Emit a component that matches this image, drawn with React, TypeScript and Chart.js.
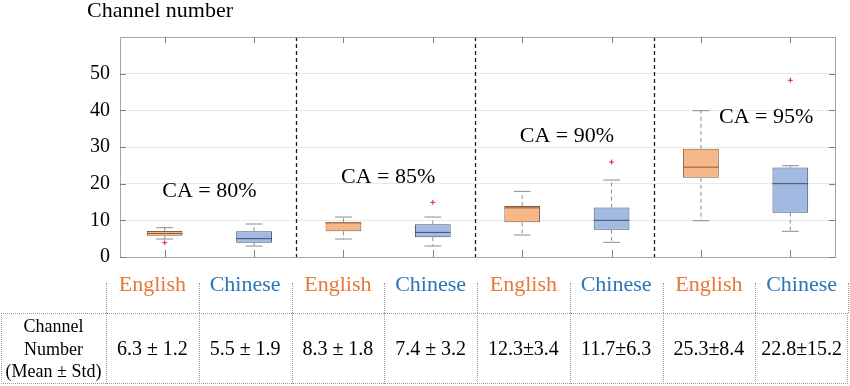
import React, { useEffect, useRef } from "react";
import { Chart, registerables } from "chart.js";

Chart.register(...registerables);

const categories = ["English", "Chinese", "English", "Chinese", "English", "Chinese", "English", "Chinese"];
const whiskerLow = [4.9, 3.0, 4.9, 3.0, 6.0, 4.0, 9.9, 7.0];
const q1 = [5.8, 3.9, 7.0, 5.4, 9.45, 7.45, 21.6, 12.1];
const median = [6.4, 5.0, 9.3, 6.7, 13.4, 10.0, 24.5, 20.0];
const q3 = [7.1, 7.0, 9.45, 8.9, 13.9, 13.5, 29.5, 24.4];
const whiskerHigh = [8.0, 9.0, 10.9, 10.9, 17.9, 21.0, 39.9, 24.9];
const outlierX = [0, 3, 5, 7];
const outlierY = [3.9, 14.9, 25.9, 48.2];
const caLabels = ["CA = 80%", "CA = 85%", "CA = 90%", "CA = 95%"];
const caX = [0.5, 2.5, 4.5, 6.73];
const caY = [17.9, 21.8, 33, 38.2];
const separatorX = [1.47, 3.47, 5.48];
const yTicks = [0, 10, 20, 30, 40, 50];
const tableValues = ["6.3 ± 1.2", "5.5 ± 1.9", "8.3 ± 1.8", "7.4 ± 3.2", "12.3±3.4", "11.7±6.3", "25.3±8.4", "22.8±15.2"];
const rowHeader = ["Channel", "Number", "(Mean ± Std)"];

const SERIF = "'Liberation Serif', 'Times New Roman', serif";
const ORANGE_FILL = "#F6B889";
const ORANGE_EDGE = "#8A5A3A";
const BLUE_FILL = "#A2B9E2";
const BLUE_EDGE = "#44506E";
const ORANGE_TEXT = "#E5793A";
const BLUE_TEXT = "#2B74BA";

const isEnglish = (c: string) => c === "English";

const boxPlugin = {
  id: "boxExtras",
  afterDatasetsDraw(chart: any) {
    const { ctx, chartArea: a, scales } = chart;
    const xs = scales.x;
    const ys = scales.y;
    const meta = chart.getDatasetMeta(0);
    ctx.save();
    categories.forEach((c, i) => {
      const x = xs.getPixelForValue(i);
      const bw = meta.data[i] ? meta.data[i].width : 36;
      const capW = bw * 0.47;
      ctx.strokeStyle = "#8c8c8c";
      ctx.lineWidth = 1;
      ctx.setLineDash([4, 3]);
      ctx.beginPath();
      ctx.moveTo(x, ys.getPixelForValue(q3[i]));
      ctx.lineTo(x, ys.getPixelForValue(whiskerHigh[i]));
      ctx.moveTo(x, ys.getPixelForValue(q1[i]));
      ctx.lineTo(x, ys.getPixelForValue(whiskerLow[i]));
      ctx.stroke();
      ctx.setLineDash([]);
      ctx.beginPath();
      ctx.moveTo(x - capW / 2, ys.getPixelForValue(whiskerHigh[i]));
      ctx.lineTo(x + capW / 2, ys.getPixelForValue(whiskerHigh[i]));
      ctx.moveTo(x - capW / 2, ys.getPixelForValue(whiskerLow[i]));
      ctx.lineTo(x + capW / 2, ys.getPixelForValue(whiskerLow[i]));
      ctx.stroke();
      ctx.strokeStyle = isEnglish(c) ? ORANGE_EDGE : BLUE_EDGE;
      ctx.beginPath();
      const my = ys.getPixelForValue(median[i]);
      ctx.moveTo(x - bw / 2, my);
      ctx.lineTo(x + bw / 2, my);
      ctx.stroke();
    });
    ctx.strokeStyle = "#1a1a1a";
    ctx.lineWidth = 1.3;
    ctx.setLineDash([4, 3]);
    separatorX.forEach((v) => {
      const x = Math.round(xs.getPixelForValue(v)) + 0.5;
      ctx.beginPath();
      ctx.moveTo(x, a.top);
      ctx.lineTo(x, a.bottom);
      ctx.stroke();
    });
    ctx.setLineDash([]);
    ctx.strokeStyle = "#a6a6a6";
    ctx.lineWidth = 1;
    ctx.strokeRect(Math.round(a.left) + 0.5, Math.round(a.top) + 0.5, Math.round(a.right - a.left), Math.round(a.bottom - a.top));
    ctx.strokeStyle = "#7f7f7f";
    ctx.beginPath();
    yTicks.forEach((t) => {
      const y = Math.round(ys.getPixelForValue(t)) + 0.5;
      ctx.moveTo(a.left, y);
      ctx.lineTo(a.left + 6, y);
      ctx.moveTo(a.right, y);
      ctx.lineTo(a.right - 6, y);
    });
    categories.forEach((_, i) => {
      const x = Math.round(xs.getPixelForValue(i)) + 0.5;
      ctx.moveTo(x, a.top);
      ctx.lineTo(x, a.top + 6);
      ctx.moveTo(x, a.bottom);
      ctx.lineTo(x, a.bottom - 7);
    });
    ctx.stroke();
    ctx.fillStyle = "#000";
    ctx.font = `22px ${SERIF}`;
    ctx.textAlign = "center";
    ctx.textBaseline = "middle";
    caLabels.forEach((t, i) => {
      ctx.fillText(t, xs.getPixelForValue(caX[i]), ys.getPixelForValue(caY[i]));
    });
    ctx.restore();
  },
};

export default function App() {
  const ref = useRef<HTMLCanvasElement>(null);
  useEffect(() => {
    if (!ref.current) return;
    const outlierData = categories.map((_, i) => {
      const k = outlierX.indexOf(i);
      return k >= 0 ? outlierY[k] : null;
    });
    const chart = new Chart(ref.current, {
      type: "bar",
      data: {
        labels: categories,
        datasets: [
          {
            type: "bar",
            data: q1.map((v, i) => [v, q3[i]]) as any,
            backgroundColor: categories.map((c) => (isEnglish(c) ? ORANGE_FILL : BLUE_FILL)),
            borderColor: categories.map((c) => (isEnglish(c) ? ORANGE_EDGE : BLUE_EDGE)),
            borderWidth: 1,
            borderSkipped: false,
            barPercentage: 0.4,
            categoryPercentage: 1,
          } as any,
          {
            type: "scatter",
            data: outlierData as any,
            pointStyle: "cross",
            pointRadius: 2.5,
            borderColor: "#e8202a",
            backgroundColor: "#e8202a",
            borderWidth: 1,
          } as any,
        ],
      },
      options: {
        animation: false,
        responsive: false,
        maintainAspectRatio: false,
        layout: { padding: { left: 0, right: 15, top: 37, bottom: 5 } },
        plugins: { legend: { display: false }, tooltip: { enabled: false }, title: { display: false } },
        scales: {
          x: {
            type: "category",
            display: false,
            offset: true,
            grid: { display: false },
          },
          y: {
            min: 0,
            max: 60,
            border: { display: false },
            grid: { color: "#e9e9e9", drawTicks: false },
            ticks: {
              stepSize: 10,
              padding: 10,
              color: "#000",
              font: { family: SERIF, size: 20 },
              callback: (v: any) => (Number(v) === 60 ? "" : String(v)),
            },
            afterFit: (s: any) => {
              s.width = 120;
            },
          },
        },
      },
      plugins: [boxPlugin],
    });
    return () => chart.destroy();
  }, []);

  const colW = (848 - 106) / categories.length;
  const sep = "1px dotted #9a9a9a";

  return (
    <div style={{ position: "absolute", left: 0, top: 0, width: 850, height: 386, fontFamily: SERIF, background: "#fff", overflow: "hidden" }}>
      <canvas ref={ref} width={850} height={279} style={{ position: "absolute", left: 0, top: 0, width: 850, height: 279 }} />
      <div style={{ position: "absolute", left: 87, top: -2, fontSize: 22, lineHeight: "23px", color: "#000", whiteSpace: "nowrap" }}>
        Channel number
      </div>
      {categories.map((c, i) => (
        <div
          key={"h" + i}
          style={{
            position: "absolute",
            left: 106 + i * colW,
            top: 272,
            width: colW,
            textAlign: "center",
            fontSize: 22,
            lineHeight: "24px",
            color: isEnglish(c) ? ORANGE_TEXT : BLUE_TEXT,
          }}
        >
          {c}
        </div>
      ))}
      {Array.from({ length: categories.length + 1 }).map((_, i) => (
        <div key={"s" + i} style={{ position: "absolute", left: Math.round(106 + i * colW), top: 283, height: 30, width: 0, borderLeft: sep }} />
      ))}
      <div style={{ position: "absolute", left: 1, top: 313, width: 847, height: 71, boxSizing: "border-box", border: sep }} />
      {Array.from({ length: categories.length }).map((_, i) => (
        <div key={"v" + i} style={{ position: "absolute", left: Math.round(106 + i * colW), top: 313, height: 71, width: 0, borderLeft: sep }} />
      ))}
      <div style={{ position: "absolute", left: 1, top: 315, width: 105, textAlign: "center", fontSize: 18, lineHeight: "22.5px", color: "#000", whiteSpace: "nowrap" }}>
        {rowHeader.map((t, i) => (
          <div key={"r" + i}>{t}</div>
        ))}
      </div>
      {tableValues.map((t, i) => (
        <div
          key={"t" + i}
          style={{
            position: "absolute",
            left: 106 + i * colW,
            top: 336,
            width: colW,
            textAlign: "center",
            fontSize: 20,
            lineHeight: "24px",
            color: "#000",
            whiteSpace: "nowrap",
          }}
        >
          {t}
        </div>
      ))}
    </div>
  );
}
